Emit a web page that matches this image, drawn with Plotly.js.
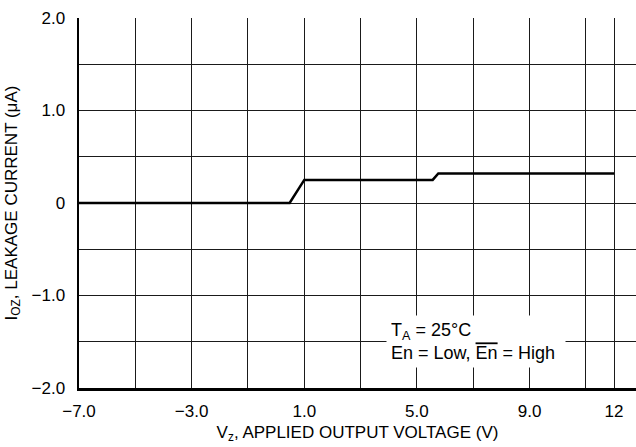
<!DOCTYPE html>
<html>
<head>
<meta charset="utf-8">
<script src="https://cdn.plot.ly/plotly-3.0.1.min.js"></script>
<style>html,body{margin:0;padding:0;background:#fff;}#chart{width:636px;height:447px;}</style>
</head>
<body>
<div id="chart"></div>
<script>
// Data
const vz  = [-7.0, 0.48, 1.0, 5.56, 5.76, 12.0];
const ioz = [0.0, 0.0, 0.25, 0.25, 0.32, 0.32];

const xTickVals = [-7, -3, 1, 5, 9, 12];
const xTickText = ["\u22127.0", "\u22123.0", "1.0", "5.0", "9.0", "12"];
const xMinorVals = [-5, -1, 3, 7, 11];
const yTickVals = [-2, -1, 0, 1, 2];
const yTickText = ["\u22122.0", "\u22121.0", "0", "1.0", "2.0"];
const yMinorVals = [-1.5, -0.5, 0.5, 1.5];

const FONT = "Liberation Sans, Arial, Helvetica, sans-serif";
const GRID = "#1a1a1a";

const trace = {
  x: vz, y: ioz, type: "scatter", mode: "lines",
  line: {color: "#000", width: 2.5}, hoverinfo: "skip"
};

const layout = {
  width: 636, height: 447,
  margin: {l: 79, r: 0, t: 18, b: 59},
  paper_bgcolor: "#fff", plot_bgcolor: "#fff",
  showlegend: false,
  font: {family: FONT, size: 17, color: "#000"},
  xaxis: {
    range: [-7, 12.78],
    tickmode: "array", tickvals: xTickVals, ticktext: xTickText,
    showgrid: true, gridcolor: GRID, gridwidth: 1,
    minor: {tickmode: "array", tickvals: xMinorVals, showgrid: true, gridcolor: GRID, gridwidth: 1, ticks: ""},
    zeroline: false,
    showline: true, linecolor: "#000", linewidth: 2.5,
    ticks: "", ticklabelstandoff: 6,
    tickfont: {family: FONT, size: 17, color: "#000"},
    title: {text: "V<sub>z</sub>, APPLIED OUTPUT VOLTAGE (V)", font: {family: FONT, size: 17, color: "#000"}, standoff: 6},
    fixedrange: true
  },
  yaxis: {
    range: [-2, 2],
    tickmode: "array", tickvals: yTickVals, ticktext: yTickText,
    showgrid: true, gridcolor: GRID, gridwidth: 1,
    minor: {tickmode: "array", tickvals: yMinorVals, showgrid: true, gridcolor: GRID, gridwidth: 1, ticks: ""},
    zeroline: false,
    showline: true, linecolor: "#000", linewidth: 2.5,
    ticks: "", ticklabelstandoff: 8,
    tickfont: {family: FONT, size: 17, color: "#000"},
    title: {text: "I<sub>OZ</sub>, LEAKAGE CURRENT (\u03bcA)", font: {family: FONT, size: 17, color: "#000"}, standoff: 10},
    fixedrange: true
  },
  annotations: [{
    xref: "x", yref: "y", x: 3.9, y: -1.21,
    xanchor: "left", yanchor: "top", align: "left",
    showarrow: false, bgcolor: "#fff", borderpad: 4, width: 170,
    font: {family: FONT, size: 18, color: "#000"},
    text: "T<sub>A</sub> = 25\u00b0C<br>En = Low, <span style=\"text-decoration:overline\">En</span> = High"
  }]
};

Plotly.newPlot("chart", [trace], layout, {displayModeBar: false, staticPlot: true});
</script>
</body>
</html>
